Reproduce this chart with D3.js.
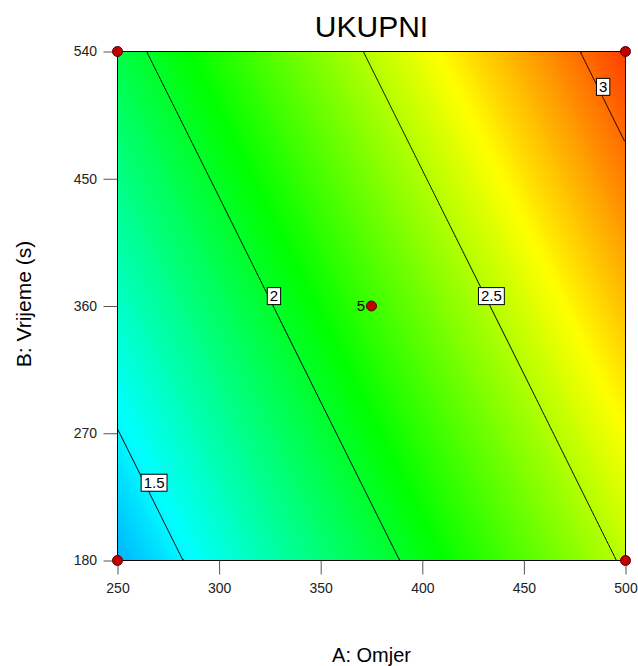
<!DOCTYPE html>
<html>
<head>
<meta charset="utf-8">
<script src="https://cdn.jsdelivr.net/npm/d3@7"></script>
<style>
  body { margin: 0; background: #fff; }
  svg { display: block; font-family: "Liberation Sans", Arial, sans-serif; }
</style>
</head>
<body>
<div id="chart"></div>
<script>
// factor levels (also the tick values)
const omjer = [250, 300, 350, 400, 450, 500];
const vrijeme = [180, 270, 360, 450, 540];

// UKUPNI at the grid nodes: rows follow vrijeme, columns follow omjer
const ukupni = [
  [1.349, 1.583, 1.818, 2.052, 2.286, 2.521],
  [1.495, 1.729, 1.964, 2.198, 2.432, 2.667],
  [1.641, 1.875, 2.110, 2.344, 2.578, 2.813],
  [1.787, 2.021, 2.256, 2.490, 2.724, 2.959],
  [1.933, 2.167, 2.402, 2.636, 2.870, 3.105]
];

const levels = [1.5, 2, 2.5, 3];
const levelLabelA = [268, 327, 434, 489];
const levelLabelB = [235, 367, 367, 515];

const pointA = [250, 500, 250, 500, 375];
const pointB = [180, 180, 540, 540, 360];
const pointLabel = ["", "", "", "", "5"];

const width = 638;
const height = 666;

const x = d3.scaleLinear().domain(d3.extent(omjer)).range([117.5, 625.5]);
const y = d3.scaleLinear().domain(d3.extent(vrijeme)).range([560.5, 51.5]);

const plotW = x.range()[1] - x.range()[0];
const plotH = y.range()[0] - y.range()[1];

const color = d3
  .scaleLinear()
  .domain([0.95, 1.52, 2.095, 2.67, 3.245])
  .range(["#0000ff", "#00ffff", "#00ff00", "#ffff00", "#ff0000"])
  .clamp(true);

// bilinear lookup in the grid
function sample(a, b) {
  const i = Math.max(0, Math.min(omjer.length - 2, d3.bisectRight(omjer, a) - 1));
  const j = Math.max(0, Math.min(vrijeme.length - 2, d3.bisectRight(vrijeme, b) - 1));
  const tx = (a - omjer[i]) / (omjer[i + 1] - omjer[i]);
  const ty = (b - vrijeme[j]) / (vrijeme[j + 1] - vrijeme[j]);
  const z0 = ukupni[j][i] * (1 - tx) + ukupni[j][i + 1] * tx;
  const z1 = ukupni[j + 1][i] * (1 - tx) + ukupni[j + 1][i + 1] * tx;
  return z0 * (1 - ty) + z1 * ty;
}

const nx = 254;
const ny = 254;
const [aMin, aMax] = x.domain();
const [bMin, bMax] = y.domain();
const values = new Float64Array(nx * ny);
for (let j = 0; j < ny; ++j) {
  const b = bMax - ((j + 0.5) / ny) * (bMax - bMin);
  for (let i = 0; i < nx; ++i) {
    const a = aMin + ((i + 0.5) / nx) * (aMax - aMin);
    values[j * nx + i] = sample(a, b);
  }
}

function raster() {
  const canvas = document.createElement("canvas");
  canvas.width = nx;
  canvas.height = ny;
  const context = canvas.getContext("2d");
  const img = context.createImageData(nx, ny);
  for (let k = 0; k < values.length; ++k) {
    const c = d3.rgb(color(values[k]));
    img.data[4 * k] = c.r;
    img.data[4 * k + 1] = c.g;
    img.data[4 * k + 2] = c.b;
    img.data[4 * k + 3] = 255;
  }
  context.putImageData(img, 0, 0);
  return canvas;
}

const svg = d3
  .select("#chart")
  .append("svg")
  .attr("width", width)
  .attr("height", height)
  .attr("viewBox", [0, 0, width, height]);

svg
  .append("defs")
  .append("clipPath")
  .attr("id", "plot-clip")
  .append("rect")
  .attr("x", x.range()[0])
  .attr("y", y.range()[1])
  .attr("width", plotW)
  .attr("height", plotH);

svg
  .append("image")
  .attr("x", x.range()[0])
  .attr("y", y.range()[1])
  .attr("width", plotW)
  .attr("height", plotH)
  .attr("preserveAspectRatio", "none")
  .attr("href", raster().toDataURL());

// contour lines
const gx = d3.scaleLinear().domain([0, nx]).range(x.range());
const gy = d3.scaleLinear().domain([0, ny]).range([y.range()[1], y.range()[0]]);
const projection = d3.geoTransform({
  point(px, py) {
    this.stream.point(gx(px), gy(py));
  }
});
const contourPath = d3.geoPath(projection);
const contours = d3.contours().size([nx, ny]).thresholds(levels)(values);

svg
  .append("g")
  .attr("clip-path", "url(#plot-clip)")
  .selectAll("path")
  .data(contours)
  .join("path")
  .attr("fill", "none")
  .attr("stroke", "#000")
  .attr("stroke-width", 1)
  .attr("d", contourPath);

// frame
svg
  .append("rect")
  .attr("x", x.range()[0])
  .attr("y", y.range()[1])
  .attr("width", plotW)
  .attr("height", plotH)
  .attr("fill", "none")
  .attr("stroke", "#000");

// axes
const xAxisG = svg
  .append("g")
  .attr("transform", `translate(0,${y.range()[0]})`)
  .call(d3.axisBottom(x).tickValues(omjer).tickSize(14).tickPadding(9));

const yAxisG = svg
  .append("g")
  .attr("transform", `translate(${x.range()[0]},0)`)
  .call(d3.axisLeft(y).tickValues(vrijeme).tickSize(14).tickPadding(6.5));

[xAxisG, yAxisG].forEach((g) => {
  g.attr("font-family", null).attr("font-size", 14);
  g.select(".domain").remove();
  g.selectAll(".tick line").attr("stroke", "#555");
  g.selectAll(".tick text").attr("fill", "#222");
});

// contour labels
const labelG = svg
  .append("g")
  .selectAll("g")
  .data(levels)
  .join("g")
  .attr("transform", (d, i) => `translate(${x(levelLabelA[i])},${y(levelLabelB[i])})`);

const labelText = labelG
  .append("text")
  .attr("text-anchor", "middle")
  .attr("dy", "0.35em")
  .attr("font-size", 15)
  .attr("fill", "#000")
  .text((d) => d);

labelG.insert("rect", "text").each(function () {
  const t = d3.select(this.parentNode).select("text").node();
  const w = t.getComputedTextLength() + 5;
  d3.select(this)
    .attr("x", -w / 2)
    .attr("y", -8.5)
    .attr("width", w)
    .attr("height", 17)
    .attr("fill", "#fff")
    .attr("stroke", "#000");
});

// design points
svg
  .append("g")
  .selectAll("circle")
  .data(pointA)
  .join("circle")
  .attr("cx", (d) => x(d))
  .attr("cy", (d, i) => y(pointB[i]))
  .attr("r", 5)
  .attr("fill", "#c00000")
  .attr("stroke", "#5a0000");

svg
  .append("g")
  .selectAll("text")
  .data(pointA)
  .join("text")
  .attr("x", (d) => x(d) - 6.5)
  .attr("y", (d, i) => y(pointB[i]))
  .attr("dy", "0.35em")
  .attr("text-anchor", "end")
  .attr("font-size", 15)
  .attr("fill", "#000")
  .text((d, i) => pointLabel[i]);

// titles
const cx = (x.range()[0] + x.range()[1]) / 2;

svg
  .append("text")
  .attr("x", cx)
  .attr("y", 37)
  .attr("text-anchor", "middle")
  .attr("font-size", 30)
  .attr("fill", "#000")
  .text("UKUPNI");

svg
  .append("text")
  .attr("x", cx)
  .attr("y", 662)
  .attr("text-anchor", "middle")
  .attr("font-size", 20)
  .attr("fill", "#000")
  .text("A: Omjer");

svg
  .append("text")
  .attr("transform", "translate(30.5,304) rotate(-90)")
  .attr("text-anchor", "middle")
  .attr("font-size", 21)
  .attr("fill", "#000")
  .text("B: Vrijeme (s)");
</script>
</body>
</html>
